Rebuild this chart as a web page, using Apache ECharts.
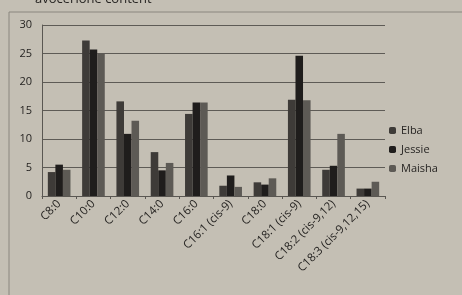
<!DOCTYPE html>
<html><head><meta charset="utf-8">
<script src="https://cdn.jsdelivr.net/npm/echarts@6/dist/echarts.min.js"></script>
<style>html,body{margin:0;padding:0;background:#c4bfb4;}#c{width:462px;height:295px;}</style>
</head><body><div id="c"></div>
<script>
const categories = ['C8:0','C10:0','C12:0','C14:0','C16:0','C16:1 (cis-9)','C18:0','C18:1 (cis-9)','C18:2 (cis-9,12)','C18:3 (cis-9,12,15)'];
const elba   = [4.2, 27.3, 16.6, 7.7, 14.4, 1.8, 2.4, 16.9, 4.6, 1.3];
const jessie = [5.5, 25.7, 10.9, 4.5, 16.4, 3.6, 2.0, 24.6, 5.3, 1.3];
const maisha = [4.6, 25.1, 13.2, 5.8, 16.4, 1.6, 3.1, 16.8, 10.9, 2.5];
const yTicks = [0, 5, 10, 15, 20, 25, 30];

const chart = echarts.init(document.getElementById('c'));
chart.setOption({
  backgroundColor: '#c4bfb4',
  animation: false,
  textStyle: {fontFamily: 'Open Sans', color: '#262422'},
  title: {text: 'avocerione content', left: 30, top: -12, textStyle: {fontSize: 13, color: '#262422', fontWeight: 'normal'}},
  graphic: [{type: 'rect', shape: {x: 9, y: 12, width: 470, height: 300}, style: {fill: 'none', stroke: '#8a867e', lineWidth: 1}}],
  legend: {
    orient: 'vertical', left: 384, top: 120, itemWidth: 7, itemHeight: 7, itemGap: 8,
    textStyle: {fontSize: 11, color: '#262422'},
    data: ['Elba', 'Jessie', 'Maisha']
  },
  grid: {left: 42, right: 77, top: 25, bottom: 99},
  xAxis: {
    type: 'category', data: categories,
    axisLine: {lineStyle: {color: '#5a5752', width: 1}},
    axisTick: {show: true, length: 3, lineStyle: {color: '#5a5752'}},
    axisLabel: {rotate: 45, fontSize: 11.5, color: '#262422', margin: 6, interval: 0}
  },
  yAxis: {
    type: 'value', min: yTicks[0], max: yTicks[yTicks.length-1], interval: 5,
    axisLine: {show: true, lineStyle: {color: '#5a5752'}},
    axisTick: {show: false},
    axisLabel: {fontSize: 11, color: '#262422', margin: 10},
    splitLine: {lineStyle: {color: '#5e5b56', width: 1}}
  },
  series: [
    {name: 'Elba', type: 'bar', data: elba, itemStyle: {color: '#3e3b38'}, barGap: '0%', barCategoryGap: '34%'},
    {name: 'Jessie', type: 'bar', data: jessie, itemStyle: {color: '#1f1d1c'}},
    {name: 'Maisha', type: 'bar', data: maisha, itemStyle: {color: '#5d5a55'}}
  ]
});
</script></body></html>
